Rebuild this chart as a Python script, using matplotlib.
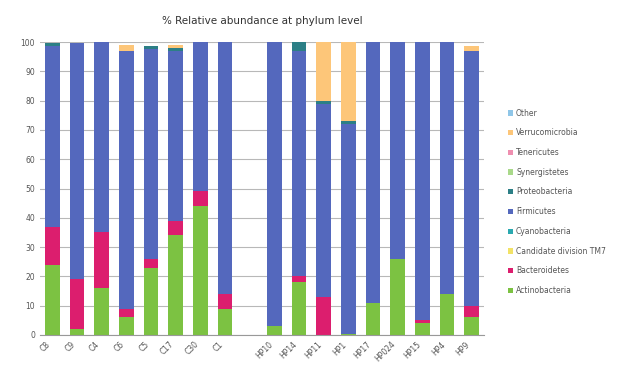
import numpy as np
import matplotlib.pyplot as plt
from matplotlib.patches import Patch

# samples (blank entry = gap between the two groups)
samples = ['C8', 'C9', 'C4', 'C6', 'C5', 'C17', 'C30', 'C1', '',
           'HP10', 'HP14', 'HP11', 'HP1', 'HP17', 'HP024', 'HP15', 'HP4', 'HP9']

# % relative abundance per phylum (bottom to top)
actinobacteria = [24, 2, 16, 6, 23, 34, 44, 9, 0, 3, 18, 0, 0.5, 11, 26, 4, 14, 6]
bacteroidetes  = [13, 17, 19, 3, 3, 5, 5, 5, 0, 0, 2, 13, 0, 0, 0, 1, 0, 4]
tm7            = [0, 0, 0, 0, 0, 0, 0, 0, 0, 0, 0, 0, 0, 0, 0, 0, 0, 0]
cyanobacteria  = [0, 0, 0, 0, 0, 0, 0, 0, 0, 0, 0, 0, 0, 0, 0, 0, 0, 0]
firmicutes     = [61.5, 80.5, 65, 88, 71.5, 58, 51, 86, 0, 97, 77, 66, 71.5, 89, 74, 95, 86, 87]
proteobacteria = [1, 0, 0, 0, 1, 1, 0, 0, 0, 0, 3, 1, 1, 0, 0, 0, 0, 0]
synergistetes  = [0, 0, 0, 0, 0, 0, 0, 0, 0, 0, 0, 0, 0, 0, 0, 0, 0, 0]
tenericutes    = [0, 0, 0, 0, 0, 0, 0, 0, 0, 0, 0, 0, 0, 0, 0, 0, 0, 0]
verrucomicrobia = [0, 0, 0, 2, 0, 1, 0, 0, 0, 0, 0, 20, 27, 0, 0, 0, 0, 1.5]
other          = [0, 0, 0, 0, 0, 0, 0, 0, 0, 0, 0, 0, 0, 0, 0, 0, 0, 0]

phyla = ['Actinobacteria', 'Bacteroidetes', 'Candidate division TM7', 'Cyanobacteria',
         'Firmicutes', 'Proteobacteria', 'Synergistetes', 'Tenericutes',
         'Verrucomicrobia', 'Other']
series = [actinobacteria, bacteroidetes, tm7, cyanobacteria, firmicutes,
          proteobacteria, synergistetes, tenericutes, verrucomicrobia, other]
colors = ['#7cc242', '#dc1e6e', '#f2e266', '#2aa9b0', '#5468bd',
          '#2c7f86', '#a9d98a', '#ef8fb0', '#fdc679', '#8fc6e8']

fig = plt.figure(figsize=(6.26, 3.65), dpi=100)
ax = fig.add_axes([40/626, 30/365, 444/626, 293/365])

x = np.arange(len(samples))
bottom = np.zeros(len(samples))
for name, vals, c in zip(phyla, series, colors):
    vals = np.array(vals, dtype=float)
    ax.bar(x, vals, 0.6, bottom=bottom, color=c, zorder=2)
    bottom += vals

ax.set_xlim(-0.5, len(samples) - 0.5)
ax.set_ylim(0, 100)
ax.set_yticks(range(0, 101, 10))
ax.yaxis.grid(True, color='#b8b8b8', lw=0.8, zorder=0)
ax.set_xticks(x)
ax.set_xticklabels(samples, rotation=45, ha='right', fontsize=5.5, color='#555555')
ax.tick_params(axis='y', labelsize=5.5, labelcolor='#555555', length=0)
ax.tick_params(axis='x', length=0)
for s in ['top', 'right', 'left']:
    ax.spines[s].set_visible(False)
ax.spines['bottom'].set_color('#999999')

ax.set_title('% Relative abundance at phylum level', fontsize=7.5, color='#333333', pad=13)

handles = [Patch(facecolor=c, label=n) for n, c in zip(phyla, colors)][::-1]
fig.legend(handles=handles, loc='center left', bbox_to_anchor=(0.80, 0.447),
           frameon=False, fontsize=5.5, labelspacing=1.4,
           handlelength=0.7, handleheight=0.7, handletextpad=0.4,
           labelcolor='#555555')

fig.savefig('out.png', dpi=100)
